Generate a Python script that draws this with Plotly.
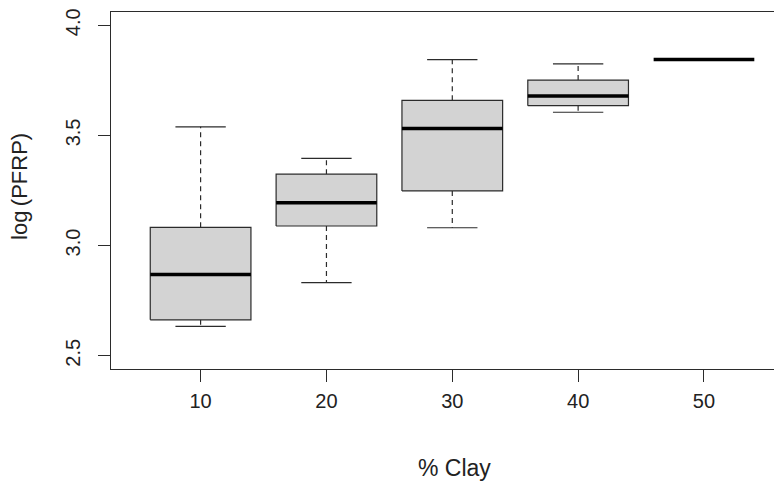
import plotly.graph_objects as go

categories = ["10", "20", "30", "40", "50"]
lower_whisker = [2.633, 2.832, 3.081, 3.605, 3.844]
q1 = [2.663, 3.089, 3.248, 3.635, 3.844]
median = [2.869, 3.194, 3.531, 3.679, 3.844]
q3 = [3.083, 3.324, 3.659, 3.751, 3.844]
upper_whisker = [3.539, 3.396, 3.844, 3.825, 3.844]
y_ticks = [2.5, 3.0, 3.5, 4.0]
y_tick_labels = ["2.5", "3.0", "3.5", "4.0"]

BOX_W = 0.8
CAP_W = 0.4
LINE = "#2b2b2b"
FONT = "Liberation Sans, Arial, sans-serif"

fig = go.Figure()
for i, cat in enumerate(categories):
    x = i + 1
    # whiskers (dashed)
    fig.add_trace(go.Scatter(
        x=[x, x, None, x, x],
        y=[q3[i], upper_whisker[i], None, q1[i], lower_whisker[i]],
        mode="lines", line=dict(color=LINE, width=1.2, dash="5px,4px"),
        hoverinfo="skip", showlegend=False))
    # caps
    fig.add_trace(go.Scatter(
        x=[x - CAP_W / 2, x + CAP_W / 2, None, x - CAP_W / 2, x + CAP_W / 2],
        y=[upper_whisker[i], upper_whisker[i], None, lower_whisker[i], lower_whisker[i]],
        mode="lines", line=dict(color=LINE, width=1.2),
        hoverinfo="skip", showlegend=False))
    # box
    if q3[i] > q1[i]:
        fig.add_trace(go.Scatter(
            x=[x - BOX_W / 2, x + BOX_W / 2, x + BOX_W / 2, x - BOX_W / 2, x - BOX_W / 2],
            y=[q1[i], q1[i], q3[i], q3[i], q1[i]],
            mode="lines", fill="toself", fillcolor="#d3d3d3",
            line=dict(color=LINE, width=1.2),
            hoverinfo="skip", showlegend=False))
    # median
    fig.add_trace(go.Scatter(
        x=[x - BOX_W / 2, x + BOX_W / 2],
        y=[median[i], median[i]],
        mode="lines", line=dict(color="#000000", width=3.5),
        hoverinfo="skip", showlegend=False))

# page body has an 8px margin: figure is sized/offset to compensate
fig.update_layout(
    width=774, height=476,
    margin=dict(l=103, r=0, t=4, b=115),
    paper_bgcolor="white", plot_bgcolor="white",
    font=dict(family=FONT, color="#222222"),
    xaxis=dict(
        range=[0.288, 5.62], tickvals=[1, 2, 3, 4, 5], ticktext=categories,
        showline=True, mirror=True, linecolor=LINE, linewidth=1,
        ticks="outside", ticklen=12, tickcolor=LINE, tickwidth=1,
        showgrid=False, zeroline=False, tickfont=dict(size=20),
        ticklabelstandoff=2,
    ),
    yaxis=dict(
        range=[2.44, 4.06], tickvals=y_ticks, ticktext=y_tick_labels,
        showline=True, mirror=False, linecolor=LINE, linewidth=1,
        ticks="outside", ticklen=12, tickcolor=LINE, tickwidth=1,
        showgrid=False, zeroline=False, tickangle=-90, tickfont=dict(size=20),
        ticklabelstandoff=10,
    ),
    annotations=[
        dict(text="% Clay", xref="paper", yref="paper", x=0.512, y=0,
             xanchor="center", yanchor="middle", yshift=-99, showarrow=False,
             font=dict(size=23, family=FONT, color="#222222")),
        dict(text="log\u2009(PFRP)", xref="paper", yref="paper", x=0, y=0.51,
             xanchor="center", yanchor="middle", xshift=-91, textangle=-90,
             showarrow=False, font=dict(size=22, family=FONT, color="#222222")),
    ],
)

fig.write_html("out.html")
